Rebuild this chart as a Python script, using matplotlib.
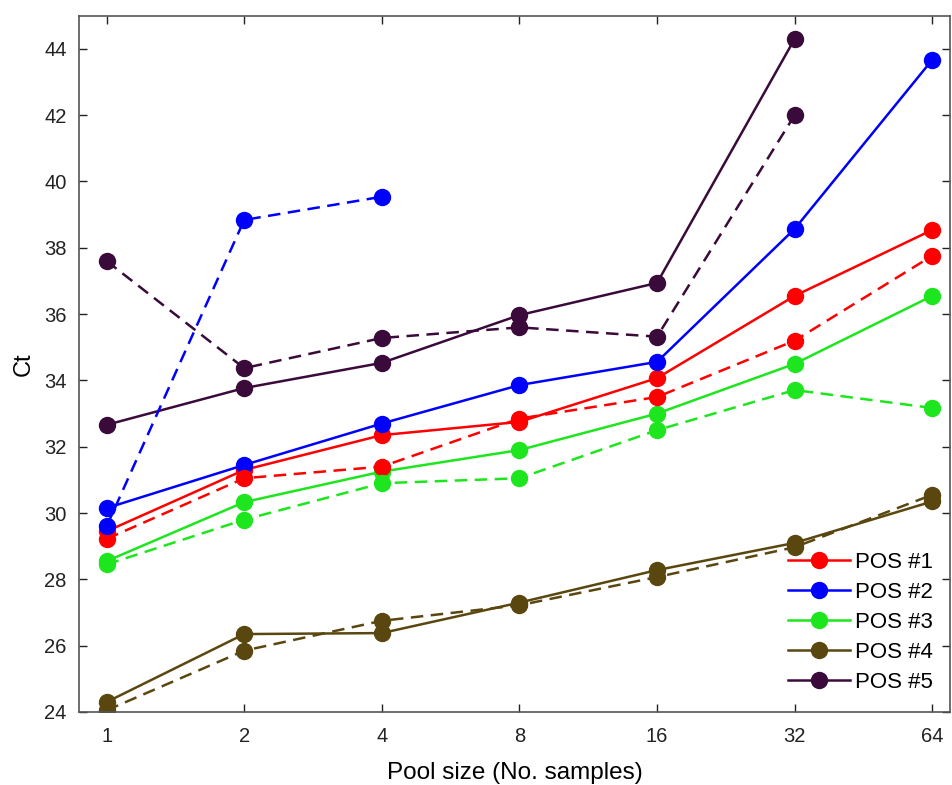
import matplotlib.pyplot as plt

plt.rcParams['font.family'] = ['Liberation Sans', 'DejaVu Sans']

pool = [1, 2, 4, 8, 16, 32, 64]
labels = ['POS #1', 'POS #2', 'POS #3', 'POS #4', 'POS #5']
colors = ['#ff0000', '#0000ff', '#1ee61e', '#5a4710', '#3a0a3a']

# solid series (first run)
pos1_a = [29.45, 31.3, 32.35, 32.75, 34.07, 36.55, 38.54]
pos2_a = [30.15, 31.45, 32.7, 33.86, 34.56, 38.57, 43.67]
pos3_a = [28.55, 30.33, 31.25, 31.9, 33.0, 34.5, 36.55]
pos4_a = [24.3, 26.35, 26.38, 27.3, 28.28, 29.1, 30.35]
pos5_a = [32.66, 33.77, 34.53, 35.97, 36.94, 44.3]

# dashed series (second run)
pos1_b = [29.22, 31.05, 31.4, 32.85, 33.5, 35.2, 37.76]
pos2_b = [29.6, 38.84, 39.54]
pos3_b = [28.45, 29.8, 30.9, 31.05, 32.5, 33.71, 33.17]
pos4_b = [24.05, 25.85, 26.75, 27.22, 28.07, 28.97, 30.55]
pos5_b = [37.6, 34.37, 35.28, 35.6, 35.32, 42.0]

solid = [pos1_a, pos2_a, pos3_a, pos4_a, pos5_a]
dashed = [pos1_b, pos2_b, pos3_b, pos4_b, pos5_b]

fig = plt.figure(figsize=(9.53, 7.85), dpi=100)
ax = fig.add_axes([0.083, 0.093, 0.914, 0.887])

for i in range(len(labels)):
    ys = solid[i]
    ax.plot(pool[:len(ys)], ys, '-o', color=colors[i], lw=1.8, ms=11.5,
            label=labels[i])
for i in range(len(labels)):
    ys = dashed[i]
    ax.plot(pool[:len(ys)], ys, '--o', color=colors[i], lw=1.8, ms=11.5,
            dashes=(5, 3))

ax.set_xscale('log', base=2)
ax.set_xticks(pool)
ax.set_xticklabels([str(p) for p in pool])
ax.minorticks_off()
ax.set_xlim(2 ** -0.2, 2 ** 6.13)
ax.set_ylim(24, 45)
ax.set_yticks(range(24, 45, 2))

ax.tick_params(direction='in', length=6, width=1, top=True, right=True,
               labelsize=14.5, colors='#222222')
ax.tick_params(axis='x', pad=11)
ax.tick_params(axis='y', pad=9)
for s in ax.spines.values():
    s.set_color('#555555')
    s.set_linewidth(1.2)

ax.set_xlabel('Pool size (No. samples)', fontsize=17.5, labelpad=11)
ax.set_ylabel('Ct', fontsize=17, labelpad=7)

ax.legend(loc='lower right', frameon=False, fontsize=16, handlelength=2.8,
          labelspacing=0.4, handletextpad=0.2, borderaxespad=0.0,
          bbox_to_anchor=(0.99, 0.015))

fig.savefig('out.png', dpi=100)
